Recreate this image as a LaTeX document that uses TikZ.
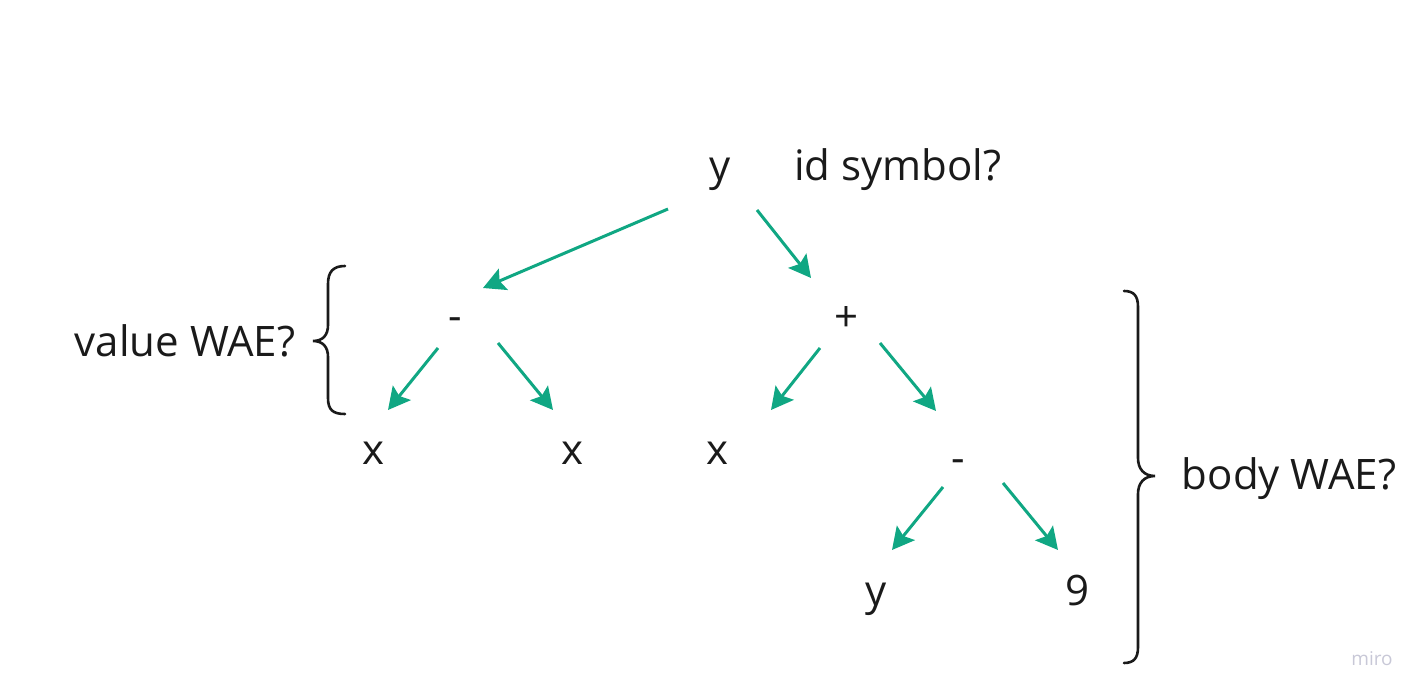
\documentclass[tikz,border=0pt]{standalone}
\usepackage{fontspec}
\setmainfont{Open Sans}
\usetikzlibrary{arrows.meta}
\definecolor{edgegreen}{RGB}{16,167,131}
\definecolor{inkdark}{RGB}{26,26,26}
\definecolor{mirogray}{RGB}{200,200,215}
\tikzset{
  lbl/.style={inner sep=0pt, text=inkdark, font=\fontsize{42}{50}\selectfont},
  edge/.style={draw=edgegreen, line width=3pt, -{Stealth[length=22pt, width=23pt, inset=4pt]}},
  bracepath/.style={draw=inkdark, line width=2.6pt, line cap=round}
}
\begin{document}
\begin{tikzpicture}[x=1pt, y=-1pt]
\useasboundingbox (0,0) rectangle (1428,700);
% nodes
\node[lbl, anchor=base] (root) at (720,181) {y};
\node[lbl, anchor=base west] (idsym) at (794,181) {id symbol?};
\node[lbl, anchor=base] (m1) at (455,331) {-};
\node[lbl, anchor=base] (plus) at (846,332) {+};
\node[lbl, anchor=base] (x1) at (373,465) {x};
\node[lbl, anchor=base] (x2) at (572,465) {x};
\node[lbl, anchor=base] (x3) at (717,465) {x};
\node[lbl, anchor=base] (m2) at (958,473) {-};
\node[lbl, anchor=base] (y2) at (876,605) {y};
\node[lbl, anchor=base] (nine) at (1077,605) {9};
\node[lbl, anchor=base] (value) at (185,357) {value WAE?};
\node[lbl, anchor=base] (body) at (1289,490) {body WAE?};
\node[inner sep=0pt, text=mirogray, font=\fontsize{19}{21}\selectfont] (miro) at (1372,659) {miro};
% connectors
\draw[edge] ([shift={(-52,28)}]root.base) -- ([shift={(28,-43)}]m1.base);
\draw[edge] ([shift={(37,29)}]root.base) -- ([shift={(-35,-54)}]plus.base);
\draw[edge] ([shift={(-17,17)}]m1.base) -- ([shift={(15,-55)}]x1.base);
\draw[edge] ([shift={(43,12)}]m1.base) -- ([shift={(-19,-55)}]x2.base);
\draw[edge] ([shift={(-26,16)}]plus.base) -- ([shift={(54,-55)}]x3.base);
\draw[edge] ([shift={(34,11)}]plus.base) -- ([shift={(-22,-62)}]m2.base);
\draw[edge] ([shift={(-15,14)}]m2.base) -- ([shift={(16,-55)}]y2.base);
\draw[edge] ([shift={(45,10)}]m2.base) -- ([shift={(-19,-55)}]nine.base);
% braces
\draw[bracepath] (345,266) .. controls (333,266) and (328,272) .. (328,284) -- (328,325)
  .. controls (328,335) and (323,341) .. (313,341)
  .. controls (323,341) and (328,347) .. (328,357) -- (328,398)
  .. controls (328,410) and (333,414) .. (345,414);
\draw[bracepath] (1124,291) .. controls (1134,291) and (1138,296) .. (1138,307) -- (1138,458)
  .. controls (1138,469) and (1144,476) .. (1155,476)
  .. controls (1144,476) and (1138,483) .. (1138,494) -- (1138,647)
  .. controls (1138,658) and (1134,663) .. (1124,663);
\end{tikzpicture}
\end{document}
